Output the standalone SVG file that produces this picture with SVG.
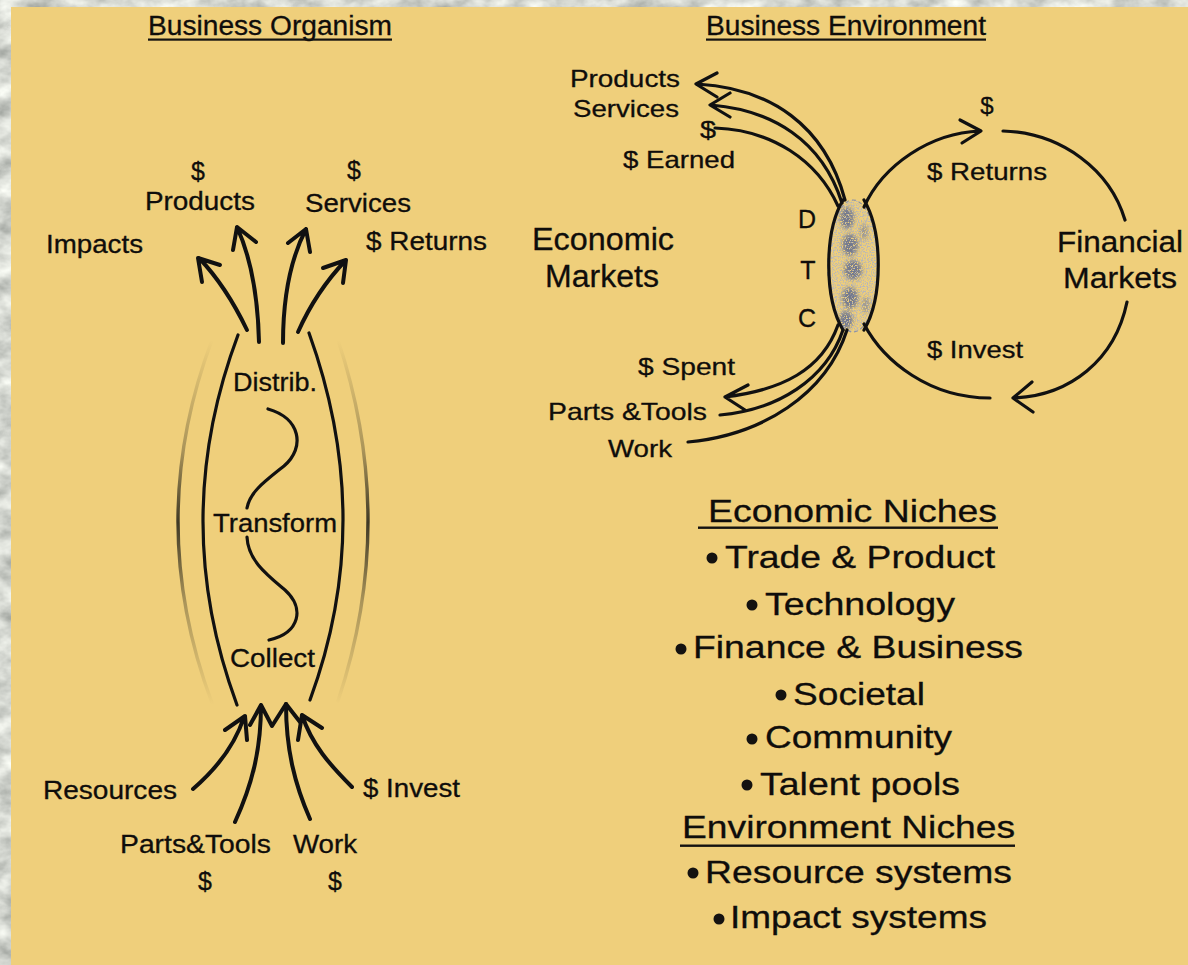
<svg xmlns="http://www.w3.org/2000/svg" width="1188" height="965" viewBox="0 0 1188 965">
  <defs>
    <style>
      text { font-family: "Liberation Sans", Arial, sans-serif; fill: #0f0d0b; stroke: #0f0d0b; stroke-width: 0.3; }
      .t24 { font-size: 25px; }
      .t23 { font-size: 24px; }
      .t26 { font-size: 27px; }
      .t28 { font-size: 29px; }
      .t29 { font-size: 31px; }
      .t31 { font-size: 32px; }
      .mid { text-anchor: middle; }
      .flow { fill: none; stroke: #111; stroke-width: 4; stroke-linecap: round; stroke-linejoin: round; }
      .body { fill: none; stroke: #111; stroke-width: 3.2; stroke-linecap: round; }
      .arc { fill: none; stroke: #111; stroke-width: 3.2; stroke-linecap: round; stroke-linejoin: round; }
      .ghost { fill: none; stroke-width: 3.4; stroke-linecap: round; }
      .rule { fill: #141210; }
      .dot { fill: #141210; }
    </style>
    <filter id="rock" x="0" y="0" width="100%" height="100%">
      <feTurbulence type="fractalNoise" baseFrequency="0.035 0.05" numOctaves="4" seed="11"/>
      <feColorMatrix type="matrix" values="0.9 0 0 0 0.22  0.9 0 0 0 0.24  0.85 0 0 0 0.22  0 0 0 0 1"/>
    </filter>
    <filter id="speckle" x="0" y="0" width="100%" height="100%">
      <feTurbulence type="fractalNoise" baseFrequency="0.8" numOctaves="2" seed="3"/>
      <feColorMatrix type="matrix" values="0 0 0 0 0.42  0 0 0 0 0.45  0 0 0 0 0.56  4 0 0 0 -1.75"/>
    </filter>
    <filter id="speckleDark" x="0" y="0" width="100%" height="100%">
      <feTurbulence type="fractalNoise" baseFrequency="0.75" numOctaves="2" seed="9"/>
      <feColorMatrix type="matrix" values="0 0 0 0 0.17  0 0 0 0 0.19  0 0 0 0 0.27  6 0 0 0 -2.0"/>
    </filter>
    <filter id="soft" x="-50%" y="-50%" width="200%" height="200%">
      <feGaussianBlur stdDeviation="2"/>
    </filter>
    <mask id="blobMask" maskUnits="userSpaceOnUse" x="820" y="195" width="70" height="145">
      <g fill="#fff" filter="url(#soft)">
        <ellipse cx="847" cy="218" rx="7" ry="11"/>
        <ellipse cx="850" cy="245" rx="8" ry="11"/>
        <ellipse cx="853" cy="270" rx="9" ry="10"/>
        <ellipse cx="850" cy="298" rx="8" ry="11"/>
        <ellipse cx="846" cy="320" rx="7" ry="9"/>
        <ellipse cx="864" cy="232" rx="4" ry="8" opacity="0.6"/>
        <ellipse cx="866" cy="305" rx="4" ry="8" opacity="0.6"/>
      </g>
    </mask>
    <linearGradient id="fadeL" gradientUnits="userSpaceOnUse" x1="0" y1="340" x2="0" y2="705">
      <stop offset="0" stop-color="#2b281c" stop-opacity="0"/>
      <stop offset="0.3" stop-color="#2b281c" stop-opacity="0.35"/>
      <stop offset="0.5" stop-color="#2b281c" stop-opacity="0.9"/>
      <stop offset="0.72" stop-color="#2b281c" stop-opacity="0.35"/>
      <stop offset="1" stop-color="#2b281c" stop-opacity="0"/>
    </linearGradient>
    <clipPath id="lensClip">
      <ellipse cx="853" cy="266" rx="25" ry="66"/>
    </clipPath>
  </defs>

  <!-- stone backdrop and slide panel -->
  <rect x="0" y="0" width="1188" height="965" filter="url(#rock)"/>
  <rect x="11" y="7" width="1177" height="958" fill="#EFCF7B"/>

  <!-- titles -->
  <g id="title-organism">
    <text class="t26" x="148" y="35" textLength="244" lengthAdjust="spacingAndGlyphs">Business Organism</text>
    <rect class="rule" x="148" y="38.5" width="244" height="2.2"/>
  </g>
  <g id="title-environment">
    <text class="t26" x="706" y="35" textLength="280" lengthAdjust="spacingAndGlyphs">Business Environment</text>
    <rect class="rule" x="706" y="38.5" width="280" height="2.2"/>
  </g>

  <!-- organism body: collect / transform / distribute -->
  <g id="organism-body">
    <path class="ghost" stroke="url(#fadeL)" d="M212,340 Q144,521 212,703"/>
    <path class="ghost" stroke="url(#fadeL)" d="M338,340 Q398,521 338,701"/>
    <path class="body" d="M238,335 Q168.5,520 237,705"/>
    <path class="body" d="M309,333 Q376.5,520 310,700"/>
    <path class="body" d="M268,409 C300,418 306,447 284,466 C264,482 250,492 247,508"/>
    <path class="body" d="M247,537 C248,560 266,574 285,590 C305,608 300,633 269,640"/>
  </g>
  <g id="stage-distrib"><text class="t24" x="233" y="391" textLength="84" lengthAdjust="spacingAndGlyphs">Distrib.</text></g>
  <g id="stage-transform"><text class="t24" x="213" y="532" textLength="124" lengthAdjust="spacingAndGlyphs">Transform</text></g>
  <g id="stage-collect"><text class="t24" x="230" y="667" textLength="85" lengthAdjust="spacingAndGlyphs">Collect</text></g>

  <!-- organism outputs -->
  <g id="out-impacts"><text class="t24" x="46" y="253" textLength="97" lengthAdjust="spacingAndGlyphs">Impacts</text></g>
  <g id="out-products">
    <text class="t24 mid" x="198" y="180">$</text>
    <text class="t24" x="145" y="210" textLength="110" lengthAdjust="spacingAndGlyphs">Products</text>
  </g>
  <g id="out-services">
    <text class="t24 mid" x="354" y="179">$</text>
    <text class="t24" x="305" y="212" textLength="106" lengthAdjust="spacingAndGlyphs">Services</text>
  </g>
  <g id="out-returns"><text class="t24" x="366" y="250" textLength="121" lengthAdjust="spacingAndGlyphs">$ Returns</text></g>

  <!-- organism inputs -->
  <g id="in-resources"><text class="t24" x="43" y="799" textLength="134" lengthAdjust="spacingAndGlyphs">Resources</text></g>
  <g id="in-parts">
    <text class="t24" x="120" y="853" textLength="151" lengthAdjust="spacingAndGlyphs">Parts&amp;Tools</text>
    <text class="t24 mid" x="205" y="890">$</text>
  </g>
  <g id="in-work">
    <text class="t24" x="293" y="853" textLength="64" lengthAdjust="spacingAndGlyphs">Work</text>
    <text class="t24 mid" x="335" y="890">$</text>
  </g>
  <g id="in-invest"><text class="t24" x="363" y="797" textLength="97" lengthAdjust="spacingAndGlyphs">$ Invest</text></g>

  <!-- environment: economic markets side -->
  <g id="econ-markets">
    <text class="t29" x="532" y="250" textLength="142" lengthAdjust="spacingAndGlyphs">Economic</text>
    <text class="t29" x="545" y="287" textLength="114" lengthAdjust="spacingAndGlyphs">Markets</text>
  </g>
  <g id="econ-out">
    <text class="t23" x="570" y="87" textLength="110" lengthAdjust="spacingAndGlyphs">Products</text>
    <text class="t23" x="573" y="117" textLength="106" lengthAdjust="spacingAndGlyphs">Services</text>
    <text class="t23" x="700" y="138" textLength="16" lengthAdjust="spacingAndGlyphs">$</text>
    <text class="t23" x="623" y="168" textLength="112" lengthAdjust="spacingAndGlyphs">$ Earned</text>
  </g>
  <g id="econ-in">
    <text class="t23" x="638" y="375" textLength="97" lengthAdjust="spacingAndGlyphs">$ Spent</text>
    <text class="t23" x="548" y="420" textLength="159" lengthAdjust="spacingAndGlyphs">Parts &amp;Tools</text>
    <text class="t23" x="608" y="457" textLength="64" lengthAdjust="spacingAndGlyphs">Work</text>
  </g>
  <g id="dtc">
    <text class="t24 mid" x="807" y="228">D</text>
    <text class="t24 mid" x="808" y="279">T</text>
    <text class="t24 mid" x="807" y="327">C</text>
  </g>

  <!-- environment: financial markets side -->
  <g id="fin-markets">
    <text class="t28" x="1057" y="252" textLength="126" lengthAdjust="spacingAndGlyphs">Financial</text>
    <text class="t28" x="1063" y="288" textLength="114" lengthAdjust="spacingAndGlyphs">Markets</text>
  </g>
  <g id="fin-labels">
    <text class="t23 mid" x="987" y="114">$</text>
    <text class="t23" x="927" y="180" textLength="120" lengthAdjust="spacingAndGlyphs">$ Returns</text>
    <text class="t23" x="927" y="358" textLength="96" lengthAdjust="spacingAndGlyphs">$ Invest</text>
  </g>

  <!-- the business where both markets overlap -->
  <g id="business-lens">
    <g clip-path="url(#lensClip)">
      <rect x="825" y="198" width="56" height="136" filter="url(#speckle)" opacity="0.85"/>
      <rect x="820" y="195" width="70" height="145" filter="url(#speckleDark)" mask="url(#blobMask)"/>
    </g>
    <ellipse cx="853" cy="266" rx="25" ry="66" fill="none" stroke="#8c93a6" stroke-width="1.2" stroke-dasharray="4 3"/>
  </g>

  <!-- connectors -->
  <g id="connectors">
    <!-- organism outputs -->
    <path class="flow" d="M247,330 C235,305 220,280 199,258 M202,282 L198,258 L220,265"/>
    <path class="flow" d="M259,342 C258,300 252,260 237,227 M233,250 L237,227 L256,242"/>
    <path class="flow" d="M283,343 C283,300 290,260 306,229 M288,243 L306,229 L310,252"/>
    <path class="flow" d="M298,332 C310,305 325,282 346,260 M323,268 L346,260 L343,283"/>
    <!-- organism inputs -->
    <path class="flow" d="M193,789 C215,770 235,745 244,717 M225,730 L245,716 L247,740"/>
    <path class="flow" d="M235,822 C252,785 261,750 261,705 M250,725 L261,705 L272,726 L286,704 L300,722"/>
    <path class="flow" d="M310,819 C295,785 286,750 286,704"/>
    <path class="flow" d="M352,787 C330,765 312,745 302,715 M298,740 L302,715 L322,728"/>

    <!-- economic market flows -->
    <path class="arc" d="M697,84 C770,88 825,125 845,200 M717,73 L696,84 L717,97"/>
    <path class="arc" d="M711,105 C772,110 822,140 842,203 M730,93 L710,105 L730,117"/>
    <path class="arc" d="M715,128 C772,130 817,160 838,206"/>
    <path class="arc" d="M725,397 C782,390 822,370 838,325 M748,385 L725,397 L745,410"/>
    <path class="arc" d="M720,415 C777,410 826,380 843,330"/>
    <path class="arc" d="M688,442 C762,435 826,395 847,330"/>

    <!-- lens edges -->
    <path class="arc" d="M843,200 C824,232 824,298 843,330"/>
    <path class="arc" d="M864,200 C883,232 883,298 864,330"/>

    <!-- financial market loop -->
    <path class="arc" d="M864,207 C883,165 930,133 980,131 M960,120 L981,131 L962,143"/>
    <path class="arc" d="M1003,131 C1062,133 1110,170 1125,220"/>
    <path class="arc" d="M1127,302 C1115,360 1070,396 1013,398 M1032,382 L1013,398 L1033,412"/>
    <path class="arc" d="M990,398 C930,398 884,362 864,324"/>
  </g>

  <!-- niche lists -->
  <g id="econ-niches">
    <text class="t31" x="708" y="522" textLength="289" lengthAdjust="spacingAndGlyphs">Economic Niches</text>
    <rect class="rule" x="698" y="526.5" width="300" height="2.4"/>
  </g>
  <g id="niche-trade"><circle class="dot" cx="712" cy="558" r="5.5"/><text class="t31" x="725" y="568" textLength="270" lengthAdjust="spacingAndGlyphs">Trade &amp; Product</text></g>
  <g id="niche-tech"><circle class="dot" cx="752" cy="605" r="5.5"/><text class="t31" x="765" y="615" textLength="190" lengthAdjust="spacingAndGlyphs">Technology</text></g>
  <g id="niche-finance"><circle class="dot" cx="681" cy="649" r="5.5"/><text class="t31" x="693" y="658" textLength="330" lengthAdjust="spacingAndGlyphs">Finance &amp; Business</text></g>
  <g id="niche-societal"><circle class="dot" cx="781" cy="695" r="5.5"/><text class="t31" x="793" y="705" textLength="132" lengthAdjust="spacingAndGlyphs">Societal</text></g>
  <g id="niche-community"><circle class="dot" cx="752" cy="739" r="5.5"/><text class="t31" x="765" y="748" textLength="187" lengthAdjust="spacingAndGlyphs">Community</text></g>
  <g id="niche-talent"><circle class="dot" cx="747" cy="785" r="5.5"/><text class="t31" x="760" y="795" textLength="200" lengthAdjust="spacingAndGlyphs">Talent pools</text></g>
  <g id="env-niches">
    <text class="t31" x="682" y="838" textLength="333" lengthAdjust="spacingAndGlyphs">Environment Niches</text>
    <rect class="rule" x="680" y="844.5" width="335" height="2.4"/>
  </g>
  <g id="niche-resource"><circle class="dot" cx="693" cy="873" r="5.5"/><text class="t31" x="705" y="883" textLength="307" lengthAdjust="spacingAndGlyphs">Resource systems</text></g>
  <g id="niche-impact"><circle class="dot" cx="719" cy="919" r="5.5"/><text class="t31" x="730" y="928" textLength="257" lengthAdjust="spacingAndGlyphs">Impact systems</text></g>
</svg>
